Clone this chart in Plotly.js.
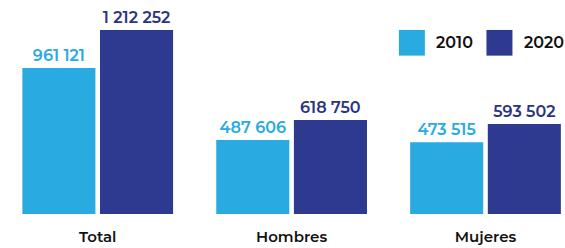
<!DOCTYPE html>
<html>
<head>
<meta charset="utf-8">
<script src="https://cdn.plot.ly/plotly-3.0.1.min.js"></script>
<style>
  html, body { margin: 0; padding: 0; background: #fff; }
  #chart { width: 565px; height: 248px; }
</style>
</head>
<body>
<div id="chart"></div>
<script>
const categories = ["Total", "Hombres", "Mujeres"];
const seriesNames = ["2010", "2020"];
const values2010 = [961121, 487606, 473515];
const values2020 = [1212252, 618750, 593502];
const colors = ["#29abe2", "#2e3a8f"];
const textColors = ["#29abe2", "#2b3483"];

const fontFamily = "Montserrat, 'Open Sans', sans-serif";

const traces = [values2010, values2020].map((vals, i) => ({
  type: "bar",
  name: seriesNames[i],
  x: categories,
  y: vals,
  marker: { color: colors[i] },
  texttemplate: "%{y:,}",
  textposition: "outside",
  cliponaxis: false,
  outsidetextfont: { family: fontFamily, size: 16, weight: 600, color: textColors[i] },
  hoverinfo: "skip",
  showlegend: false
}));

const legendShapes = [];
const legendAnnotations = [];
const legendX = [0.706, 0.861];
seriesNames.forEach((name, i) => {
  legendShapes.push({
    type: "rect", xref: "paper", yref: "paper",
    x0: legendX[i], x1: legendX[i] + 0.046, y0: 0.740, y1: 0.860,
    fillcolor: colors[i], line: { width: 0 }
  });
  legendAnnotations.push({
    xref: "paper", yref: "paper", x: legendX[i] + 0.063, y: 0.800,
    xanchor: "left", yanchor: "middle", showarrow: false, text: name,
    font: { family: fontFamily, size: 16, weight: 600, color: "#111111" }
  });
});

const layout = {
  width: 565, height: 248,
  margin: { l: 0, r: 0, t: 0, b: 34 },
  paper_bgcolor: "#ffffff", plot_bgcolor: "#ffffff",
  separators: ". ",
  barmode: "group",
  bargap: 0.199,
  bargroupgap: 0.059,
  showlegend: false,
  xaxis: {
    type: "category",
    range: [-0.504, 2.41],
    showgrid: false, zeroline: false, showline: false, ticks: "",
    ticklabelstandoff: 12,
    tickfont: { family: fontFamily, size: 15, weight: 600, color: "#111111" },
    fixedrange: true
  },
  yaxis: {
    range: [0, 1409890],
    visible: false, showgrid: false, zeroline: false, fixedrange: true
  },
  shapes: legendShapes,
  annotations: legendAnnotations
};

Plotly.newPlot("chart", traces, layout, { displayModeBar: false, staticPlot: true });
</script>
</body>
</html>
